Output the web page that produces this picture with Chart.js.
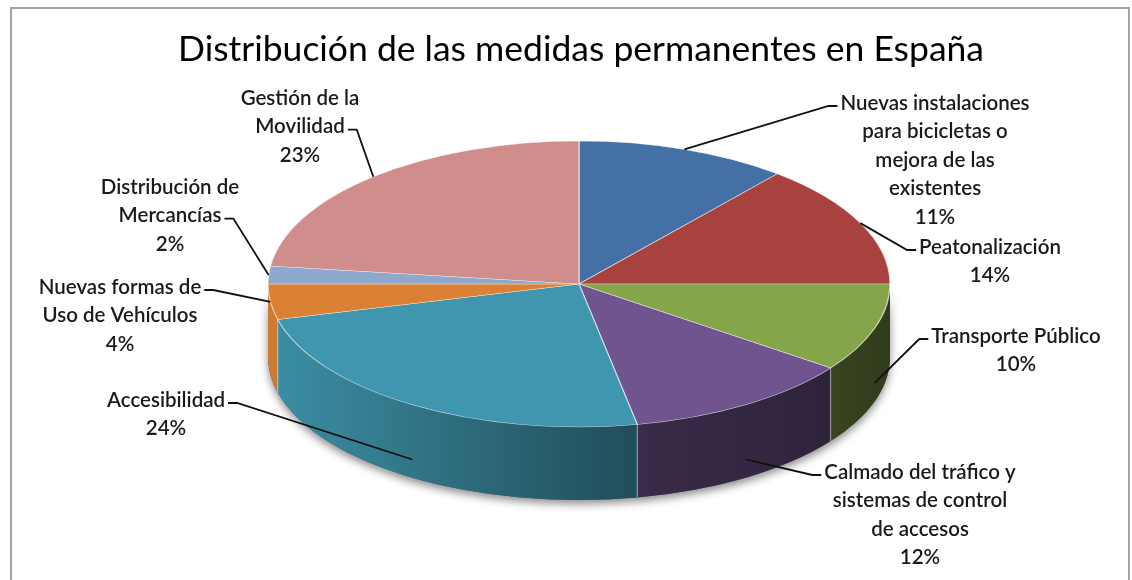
<!DOCTYPE html>
<html>
<head>
<meta charset="utf-8">
<script src="https://cdn.jsdelivr.net/npm/chart.js@4"></script>
<style>
  html, body { margin: 0; padding: 0; background: #fff; }
  #wrap { width: 1132px; height: 580px; position: relative; }
</style>
</head>
<body>
<div id="wrap"><canvas id="chart-1" width="1132" height="580"></canvas></div>
<script>
/************************ data *********************************/

const categories = [
  ["Nuevas instalaciones", "para bicicletas o", "mejora de las", "existentes"],
  ["Peatonalización"],
  ["Transporte Público"],
  ["Calmado del tráfico y", "sistemas de control", "de accesos"],
  ["Accesibilidad"],
  ["Nuevas formas de", "Uso de Vehículos"],
  ["Distribución de", "Mercancías"],
  ["Gestión de la", "Movilidad"],
];
const values = [11, 14, 10, 12, 24, 4, 2, 23];
const titleText = "Distribución de las medidas permanentes en España";

/************************ look *********************************/

const colors = ["#4470A6", "#A8423F", "#86A44A", "#6F548E", "#3F96AE", "#DA8136", "#8FA8CF", "#CF8D8C"];

// ellipse of the top face and depth of the side wall
const PIE = { cx: 579, cy: 284, rx: 311, ry: 143, depth: 73 };

// where each label block sits (centre x, first line y) and which line the leader leaves from
const labelPos = [
  { x: 935, y: 103, attach: 0, side: "left" },
  { x: 990, y: 247, attach: 0, side: "left" },
  { x: 1016, y: 336, attach: 0, side: "left" },
  { x: 920, y: 472, attach: 0, side: "left" },
  { x: 166, y: 400, attach: 0, side: "right" },
  { x: 120, y: 287, attach: 0, side: "right" },
  { x: 170, y: 187, attach: 1, side: "right" },
  { x: 300, y: 98, attach: 1, side: "right" },
];
const LABEL_FONT = "600 20.5px Lato";
const LINE_H = 28.6;

function shade(hex, f) {
  const n = parseInt(hex.slice(1), 16);
  const r = Math.round(((n >> 16) & 255) * f);
  const g = Math.round(((n >> 8) & 255) * f);
  const b = Math.round((n & 255) * f);
  return "rgb(" + r + "," + g + "," + b + ")";
}

/************************ 3d look plugin *********************************/

const pie3d = {
  id: "pie3d",
  beforeDraw(chart) {
    const ctx = chart.ctx;
    ctx.save();
    ctx.fillStyle = "#fff";
    ctx.fillRect(0, 0, chart.width, chart.height);
    ctx.strokeStyle = "#a3a3a3";
    ctx.lineWidth = 2;
    ctx.strokeRect(11, 8, 1118, 620);
    ctx.restore();
  },
  beforeDatasetsDraw(chart) {
    const ctx = chart.ctx;
    const arcs = chart.getDatasetMeta(0).data;
    const { cx, cy, rx, ry, depth } = PIE;

    // soft shadow under the cake
    ctx.save();
    ctx.beginPath();
    ctx.ellipse(cx, cy, rx, ry, 0, 0, Math.PI);
    ctx.lineTo(cx - rx, cy + depth);
    ctx.ellipse(cx, cy + depth, rx, ry, 0, Math.PI, 0, true);
    ctx.closePath();
    ctx.shadowColor = "rgba(0,0,0,0.45)";
    ctx.shadowBlur = 9;
    ctx.shadowOffsetY = 4;
    ctx.fillStyle = "#555";
    ctx.fill();
    ctx.restore();

    // side walls of the front slices
    arcs.forEach(function (arc, i) {
      const s = Math.max(arc.startAngle, 0);
      const e = Math.min(arc.endAngle, Math.PI);
      if (s >= e) return;
      const grad = ctx.createLinearGradient(cx - rx, 0, cx + rx, 0);
      grad.addColorStop(0, shade(colors[i], 0.95));
      grad.addColorStop(0.58, shade(colors[i], 0.52));
      grad.addColorStop(0.9, shade(colors[i], 0.42));
      grad.addColorStop(1, shade(colors[i], 0.36));
      ctx.beginPath();
      ctx.ellipse(cx, cy, rx, ry, 0, s, e);
      ctx.lineTo(cx + rx * Math.cos(e), cy + ry * Math.sin(e) + depth);
      ctx.ellipse(cx, cy + depth, rx, ry, 0, e, s, true);
      ctx.closePath();
      ctx.fillStyle = grad;
      ctx.fill();
    });

    // light edges where slices meet on the wall
    ctx.strokeStyle = "rgba(255,255,255,0.55)";
    ctx.lineWidth = 1;
    arcs.forEach(function (arc) {
      const a = arc.startAngle;
      if (a > 0.01 && a < Math.PI - 0.01) {
        const x = cx + rx * Math.cos(a), y = cy + ry * Math.sin(a);
        ctx.beginPath();
        ctx.moveTo(x, y);
        ctx.lineTo(x, y + depth);
        ctx.stroke();
      }
    });

    // squash the library's round pie into the top face
    const R = arcs[0].outerRadius;
    ctx.save();
    ctx.translate(cx, cy);
    ctx.scale(rx / R, ry / R);
    ctx.translate(-arcs[0].x, -arcs[0].y);
  },
  afterDatasetsDraw(chart) {
    const ctx = chart.ctx;
    ctx.restore();
    const arcs = chart.getDatasetMeta(0).data;
    const { cx, cy, rx, ry, depth } = PIE;

    ctx.save();
    ctx.font = LABEL_FONT;
    ctx.fillStyle = "#1a1a1a";
    ctx.textAlign = "center";
    ctx.textBaseline = "middle";
    ctx.strokeStyle = "#111";
    ctx.lineWidth = 1.8;

    arcs.forEach(function (arc, i) {
      const lp = labelPos[i];
      const lines = categories[i].concat([values[i] + "%"]);
      lines.forEach(function (t, k) {
        ctx.fillText(t, lp.x, lp.y + k * LINE_H);
      });

      // leader line
      const w = ctx.measureText(lines[lp.attach]).width;
      const ly = lp.y + lp.attach * LINE_H + 3;
      const sx = lp.side === "right" ? lp.x + w / 2 + 3 : lp.x - w / 2 - 3;
      const ex = lp.side === "right" ? sx + 9 : sx - 9;
      const mid = (arc.startAngle + arc.endAngle) / 2;
      let px = cx + rx * Math.cos(mid);
      let py = cy + ry * Math.sin(mid);
      if (Math.sin(mid) > 0.3) py += depth * 0.75;
      ctx.beginPath();
      ctx.moveTo(sx, ly);
      ctx.lineTo(ex, ly);
      ctx.lineTo(px, py);
      ctx.stroke();
    });
    ctx.restore();
  },
};

/************************ chart *********************************/

const ctx1 = document.getElementById("chart-1").getContext("2d");
const myChart1 = new Chart(ctx1, {
  type: "pie",
  data: {
    labels: categories.map(function (c) { return c.join(" "); }),
    datasets: [
      {
        data: values,
        backgroundColor: colors,
        borderColor: "rgba(255,255,255,0.6)",
        borderWidth: 1,
        clip: false,
      },
    ],
  },
  options: {
    responsive: false,
    animation: false,
    events: [],
    layout: { padding: { left: 30, top: 18, right: 0, bottom: 20 } },
    plugins: {
      legend: { display: false },
      tooltip: { enabled: false },
      title: {
        display: true,
        text: titleText,
        color: "#000",
        font: { family: "Lato", size: 35.5, weight: "normal" },
        padding: { top: 10, bottom: 10 },
      },
    },
  },
  plugins: [pie3d],
});
</script>
</body>
</html>
